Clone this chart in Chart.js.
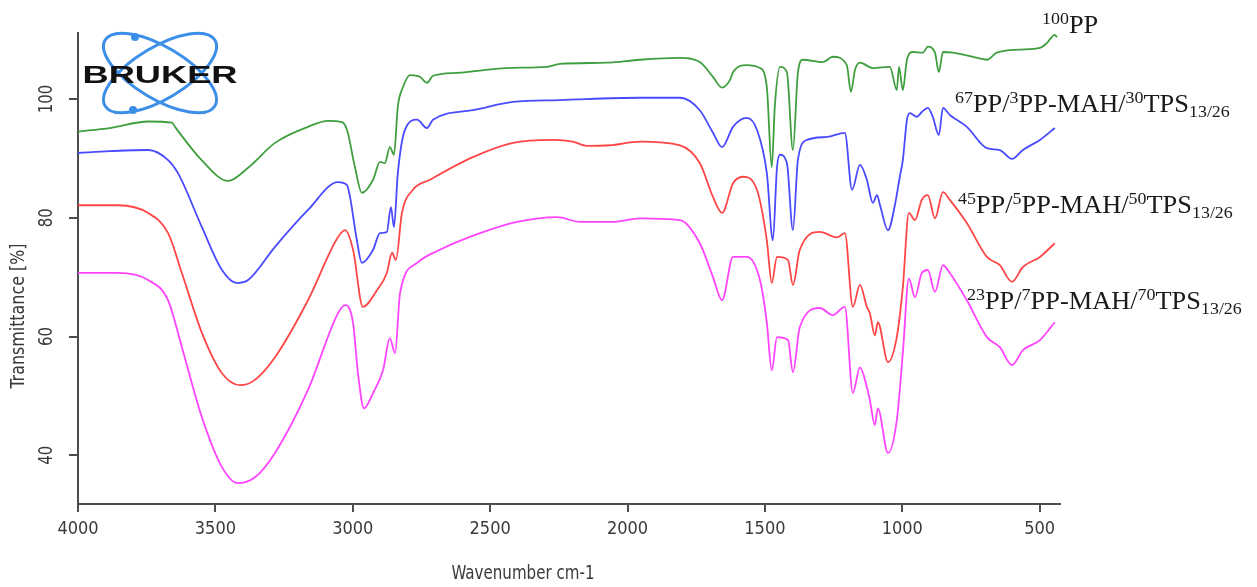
<!DOCTYPE html>
<html><head><meta charset="utf-8">
<script src="https://cdn.jsdelivr.net/npm/chart.js@4.4.1/dist/chart.umd.min.js"></script>
<style>html,body{margin:0;padding:0;background:#fff}#wrap{width:1257px;height:587px;position:relative}</style>
</head><body><div id="wrap"><canvas id="c" width="1257" height="587"></canvas></div>
<script>
// ---- axis ticks / titles ----
const xTicks = [4000, 3500, 3000, 2500, 2000, 1500, 1000, 500];
const yTicks = [40, 60, 80, 100];
const xTitle = 'Wavenumber cm-1';
const yTitle = 'Transmittance [%]';

// ---- series: 100PP (green) ----
const wnPP = [4000,3884,3745,3658,3647,3550,3454,3381,3283,3163,3090,3039,3021,2992,2967,2926,2901,2883,2865,2850,2836,2817,2792,2755,2730,2708,2621,2439,2293,2246,2075,1955,1809,1737,1689,1656,1627,1616,1566,1518,1493,1475,1464,1445,1420,1398,1380,1362,1289,1253,1202,1187,1172,1154,1107,1045,1020,1012,998,983,961,925,907,881,867,852,816,743,692,656,572,499,474,445,437];
const tPP = [94.5,95.1,96.2,96.0,95.3,89.7,86.2,88.4,92.6,95.3,96.3,96.1,94.8,88.5,84.2,86.4,89.4,89.2,91.9,90.6,98.7,102.0,104.0,103.7,102.7,103.9,104.4,105.2,105.4,105.9,106.1,106.6,106.9,106.2,103.7,101.9,103.2,104.5,105.7,105.2,102.0,88.5,98.7,105.4,104.5,91.4,104.4,106.6,106.2,107.1,105.7,101.2,104.9,106.1,105.2,105.4,101.5,105.4,101.5,106.6,107.9,107.8,108.8,107.8,104.5,107.9,107.8,107.1,106.6,107.8,108.3,108.6,109.4,110.8,110.4];

// ---- series: 67PP/3PP-MAH/30TPS (blue) ----
const wn67 = [4000,3884,3745,3672,3636,3549,3476,3421,3381,3283,3163,3054,3021,3010,2985,2967,2926,2901,2876,2861,2850,2836,2810,2766,2730,2708,2563,2417,2246,1955,1809,1737,1689,1656,1616,1566,1529,1493,1471,1456,1445,1420,1398,1380,1347,1274,1209,1183,1154,1129,1107,1092,1081,1052,1027,1009,998,983,972,947,929,907,889,867,852,827,765,692,645,601,561,499,445];
const t67 = [90.9,91.2,91.4,89.7,87.5,78.4,71.2,69.0,69.5,75.1,81.3,86.0,85.5,83.5,76.2,72.4,74.6,77.4,77.6,81.8,78.4,87.5,94.8,96.5,95.1,96.5,98.1,99.5,99.8,100.2,100.2,98.1,94.3,91.9,95.3,96.8,94.8,87.5,76.2,88.5,90.6,89.2,77.9,89.7,93.1,93.6,94.3,84.7,88.9,86.4,82.5,83.8,82.1,77.9,82.1,86.9,89.7,96.5,97.6,97.0,97.8,98.5,97.0,93.9,98.5,97.3,95.3,91.7,91.4,89.9,91.4,93.1,95.1];

// ---- series: 45PP/5PP-MAH/50TPS (red) ----
const wn45 = [4000,3854,3745,3672,3622,3549,3476,3410,3356,3283,3163,3054,3028,2999,2963,2912,2876,2857,2843,2821,2781,2719,2563,2417,2271,2199,2148,2064,1955,1809,1737,1689,1656,1616,1580,1529,1493,1475,1456,1416,1398,1373,1300,1238,1209,1180,1154,1129,1118,1100,1089,1052,1020,998,976,954,929,907,881,852,827,765,692,645,601,561,499,445];
const t45 = [82.1,82.1,80.8,77.4,70.7,60.6,53.8,51.8,52.7,56.5,66.1,76.7,77.9,74.6,65.0,67.8,70.7,74.1,72.9,80.8,84.7,86.4,90.2,92.6,93.1,92.8,92.1,92.2,92.8,92.2,89.2,83.5,80.8,85.8,86.9,84.7,76.2,69.0,73.4,72.9,68.7,74.6,77.6,76.7,77.4,65.0,68.7,65.0,63.9,60.2,62.4,55.7,59.9,68.3,80.8,79.6,83.0,83.8,79.9,84.3,83.0,79.1,73.4,72.0,69.2,71.7,73.4,75.7];

// ---- series: 23PP/7PP-MAH/70TPS (magenta) ----
const wn23 = [4000,3854,3745,3672,3622,3549,3476,3418,3356,3283,3163,3054,3028,2999,2981,2959,2926,2890,2865,2846,2828,2766,2683,2537,2402,2257,2173,2053,1955,1809,1737,1689,1656,1616,1566,1518,1493,1475,1456,1416,1398,1373,1300,1253,1209,1180,1154,1129,1118,1100,1089,1052,1020,998,976,954,929,907,881,852,827,765,692,645,601,561,499,445];
const t23 = [70.7,70.7,69.5,66.1,58.2,46.4,38.0,35.3,36.3,40.4,51.0,63.9,65.3,62.3,53.8,47.9,50.5,54.3,59.7,57.2,67.3,72.4,74.6,77.4,79.3,80.1,79.3,79.3,79.9,79.6,75.7,70.0,66.1,73.4,73.4,69.5,62.3,54.3,59.9,59.4,54.0,61.6,64.8,63.6,65.0,50.5,54.8,51.5,49.3,45.1,47.9,40.4,45.9,57.2,69.8,66.6,70.7,71.2,67.5,72.0,70.7,66.1,59.9,58.2,55.2,57.7,59.4,62.4];

// ---- series labels (rich text parts) ----
const labelPP = [['100','sup'],['PP','n']];
const label67 = [['67','sup'],['PP/','n'],['3','sup'],['PP-MAH/','n'],['30','sup'],['TPS','n'],['13/26','sub']];
const label45 = [['45','sup'],['PP/','n'],['5','sup'],['PP-MAH/','n'],['50','sup'],['TPS','n'],['13/26','sub']];
const label23 = [['23','sup'],['PP/','n'],['7','sup'],['PP-MAH/','n'],['70','sup'],['TPS','n'],['13/26','sub']];
const logoText = 'BRUKER';

const AXIS_FONT = "'Liberation Sans Narrow','Arial Narrow','DejaVu Sans Condensed',sans-serif";
const AXIS_COLOR = '#3a3a3a';
const SERIF = "'Liberation Serif','Times New Roman',serif";

function pts(xs, ys){ const n=Math.min(xs.length, ys.length); const o=[]; for(let i=0;i<n;i++) o.push({x:xs[i], y:ys[i]}); return o; }

function ds(label, xs, ys, color){
  return {label, data: pts(xs, ys), borderColor: color, backgroundColor: color, borderWidth: 1.8,
    pointRadius: 0, tension: 0.25, cubicInterpolationMode: 'monotone', fill: false};
}

function drawRich(ctx, parts, x, y, stretch){
  ctx.save();
  ctx.translate(x, y);
  ctx.scale(stretch, 1);
  ctx.textAlign = 'left'; ctx.textBaseline = 'alphabetic';
  let cx = 0;
  for (const [t, k] of parts){
    if (k === 'n'){ ctx.font = `25px ${SERIF}`; ctx.fillText(t, cx, 0); }
    else if (k === 'sup'){ ctx.font = `17px ${SERIF}`; ctx.fillText(t, cx, -9); }
    else { ctx.font = `17px ${SERIF}`; ctx.fillText(t, cx, 5); }
    cx += ctx.measureText(t).width;
  }
  ctx.restore();
}

function fitText(ctx, text, x, y, targetW, rotate){
  ctx.save();
  ctx.translate(x, y);
  if (rotate) ctx.rotate(-Math.PI/2);
  const w = ctx.measureText(text).width;
  ctx.scale(targetW / w, 1);
  ctx.fillText(text, 0, 0);
  ctx.restore();
}

function drawLogo(ctx){
  const cx = 160, cy = 73, a = 64, b = 26, rot = 31*Math.PI/180;
  ctx.save();
  ctx.strokeStyle = '#3b8fe8'; ctx.lineWidth = 3;
  ctx.beginPath(); ctx.ellipse(cx, cy, a, b, rot, 0, Math.PI*2); ctx.stroke();
  ctx.beginPath(); ctx.ellipse(cx, cy, a, b, -rot, 0, Math.PI*2); ctx.stroke();
  ctx.fillStyle = '#3b8fe8';
  [[cx-25, cy-36], [cx-27, cy+37]].forEach(p=>{ ctx.beginPath(); ctx.arc(p[0], p[1], 4, 0, Math.PI*2); ctx.fill(); });
  ctx.font = `bold 23px 'Liberation Sans', Arial, sans-serif`;
  const w = ctx.measureText(logoText).width;
  ctx.translate(160, 83);
  ctx.scale(155 / w, 1);
  ctx.textAlign = 'center'; ctx.textBaseline = 'alphabetic';
  ctx.fillStyle = '#111';
  ctx.fillText(logoText, 0, 0);
  ctx.restore();
}

const overlay = {
  id: 'overlay',
  afterDraw(chart){
    const ctx = chart.ctx, ys = chart.scales.y, ca = chart.chartArea;
    ctx.save();
    ctx.fillStyle = AXIS_COLOR;
    ctx.font = `19px ${AXIS_FONT}`;
    ctx.textAlign = 'center'; ctx.textBaseline = 'middle';
    yTicks.forEach(v => {
      const py = ys.getPixelForValue(v);
      fitText(ctx, String(v), ca.left - 31, py, String(v).length * 9.5, true);
    });
    fitText(ctx, yTitle, 19, 316, 145, true);
    fitText(ctx, xTitle, 523, 574, 143, false);
    ctx.fillStyle = '#1a1a1a';
    drawRich(ctx, labelPP, 1042, 33, 1.055);
    drawRich(ctx, label67, 955, 112, 1.055);
    drawRich(ctx, label45, 958, 213, 1.055);
    drawRich(ctx, label23, 967, 309, 1.055);
    drawLogo(ctx);
    ctx.restore();
  }
};

new Chart(document.getElementById('c'), {
  type: 'line',
  data: { datasets: [
    ds('100PP', wnPP, tPP, '#3f9f3f'),
    ds('67PP/3PP-MAH/30TPS13/26', wn67, t67, '#4a4aff'),
    ds('45PP/5PP-MAH/50TPS13/26', wn45, t45, '#ff4646'),
    ds('23PP/7PP-MAH/70TPS13/26', wn23, t23, '#ff44ff')
  ]},
  options: {
    responsive: false, animation: false,
    layout: { padding: { top: 33, right: 197, left: 0, bottom: 0 } },
    plugins: { legend: { display: false }, tooltip: { enabled: false } },
    scales: {
      x: {
        type: 'linear', reverse: true, min: 426, max: 4000,
        afterBuildTicks: s => { s.ticks = xTicks.map(v => ({ value: v })); },
        afterFit: s => { s.height = 83; },
        grid: { drawOnChartArea: false, drawTicks: true, tickLength: 8, color: '#4d4d4d', lineWidth: 2 },
        border: { display: true, color: '#4d4d4d', width: 2 },
        ticks: { color: AXIS_COLOR, font: { family: AXIS_FONT, size: 18 }, padding: 7, maxRotation: 0, minRotation: 0, autoSkip: false,
                 callback: v => String(v) }
      },
      y: {
        type: 'linear', min: 31.8, max: 111.1,
        afterBuildTicks: s => { s.ticks = yTicks.map(v => ({ value: v })); },
        afterFit: s => { s.width = 78; },
        grid: { drawOnChartArea: false, drawTicks: true, tickLength: 9, color: '#4d4d4d', lineWidth: 2 },
        border: { display: true, color: '#4d4d4d', width: 2 },
        ticks: { display: false }
      }
    }
  },
  plugins: [overlay]
});
</script>
</body></html>
